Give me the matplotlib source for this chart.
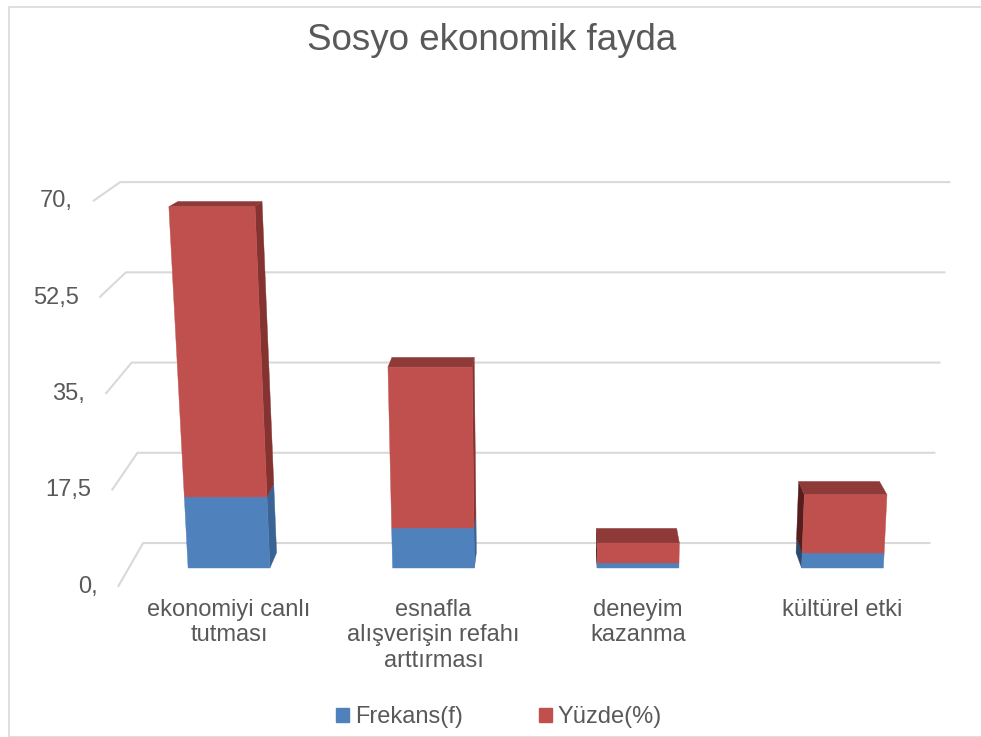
import matplotlib.pyplot as plt
from matplotlib.patches import Patch, Rectangle

# Chart data
categories = ["ekonomiyi canlı\ntutması", "esnafla\nalışverişin refahı\narttırması",
              "deneyim\nkazanma", "kültürel etki"]
frekans = [12.8, 7.2, 0.9, 2.7]
yuzde = [52.3, 29.0, 3.6, 10.5]
tick_vals = [0, 17.5, 35, 52.5, 70]
tick_labels = ["0,", "17,5", "35,", "52,5", "70,"]
title = "Sosyo ekonomik fayda"

plt.rcParams['font.family'] = ['Liberation Sans', 'DejaVu Sans']
TXT = '#595959'
GRID = '#D9D9D9'
BLUE = ('#4F81BD', '#3A6494', '#2B4A6F')   # front, right side, left side
RED = ('#C0504D', '#843331', '#551E1D')
RED_TOP = '#8E3A38'

# fake 3D look (perspective in data units)
BAR_W = 0.40
X_VAN, SLANT = 1.57, 8.16e-4
X_EYE, KX = 1.62, 0.023
Y_EYE, KY = 98.7, 0.028


def front(x, y):
    return x + (x - X_VAN) * y * SLANT, y


def back(x, y):
    return x + (X_EYE - x) * KX, y + (Y_EYE - y) * KY


fig = plt.figure(figsize=(9.81, 7.37), dpi=100)
ax = fig.add_axes([0, 0, 1, 1])
ax.set_xlim(-229 / 204.5, (981 - 229) / 204.5)
ax.set_ylim(-(737 - 568) / 5.55, 568 / 5.55)
ax.axis('off')

# back wall and side wall gridlines
for v, lab in zip(tick_vals, tick_labels):
    fy = -3.4 + v * 0.993
    fx = -0.543 - v * 0.00174
    by = 4.5 + v * 0.929
    bx = -0.42 - v * 0.0016
    rx = 3.43 + v * 0.0014
    ax.plot([fx, bx, rx], [fy, by, by], color=GRID, lw=1.5, zorder=1,
            solid_capstyle='butt')
    ax.text(fx - 0.1, fy, lab, ha='right', va='center', fontsize=17, color=TXT)


def face(pts, color, z):
    xs, ys = zip(*pts)
    ax.fill(xs, ys, color=color, lw=0.3, ec=color, zorder=z)


for i, (f, p) in enumerate(zip(frekans, yuzde)):
    xl, xr = i - BAR_W / 2, i + BAR_W / 2
    top = f + p
    for (y0, y1), cols in (((0, f), BLUE), ((f, top), RED)):
        # side face
        dx = (X_EYE - i) * KX
        ex = xr if dx > 0 else xl
        side_col = cols[1] if dx > 0 else cols[2]
        a, b = front(ex, y0), front(ex, y1)
        face([a, b, back(*b), back(*a)], side_col, 2)
        face([front(xl, y0), front(xr, y0), front(xr, y1), front(xl, y1)], cols[0], 3)
    # top face
    tl, tr = front(xl, top), front(xr, top)
    face([tl, tr, back(*tr), back(*tl)], RED_TOP, 2)
    ax.text(i, -5.6, categories[i], ha='center', va='top', fontsize=17,
            color=TXT, linespacing=1.2)

fig.text(492 / 981, 1 - 50 / 737, title, ha='center', va='baseline',
         fontsize=26.5, color=TXT)

handles = [Patch(color=BLUE[0], label="Frekans(f)"), Patch(color=RED[0], label="Yüzde(%)")]
fig.legend(handles=handles, loc='center', bbox_to_anchor=(499 / 981, 1 - 717 / 737),
           ncol=2, frameon=False, fontsize=17, labelcolor=TXT,
           handlelength=0.55, handleheight=0.55, handletextpad=0.25,
           columnspacing=3.2, borderpad=0)

# chart area border
fig.patches.append(Rectangle((8.5 / 981, 0.5 / 737), 1.0, 729.5 / 737,
                             transform=fig.transFigure, fill=False,
                             ec=GRID, lw=1.2))

fig.savefig("out.png", dpi=100)
